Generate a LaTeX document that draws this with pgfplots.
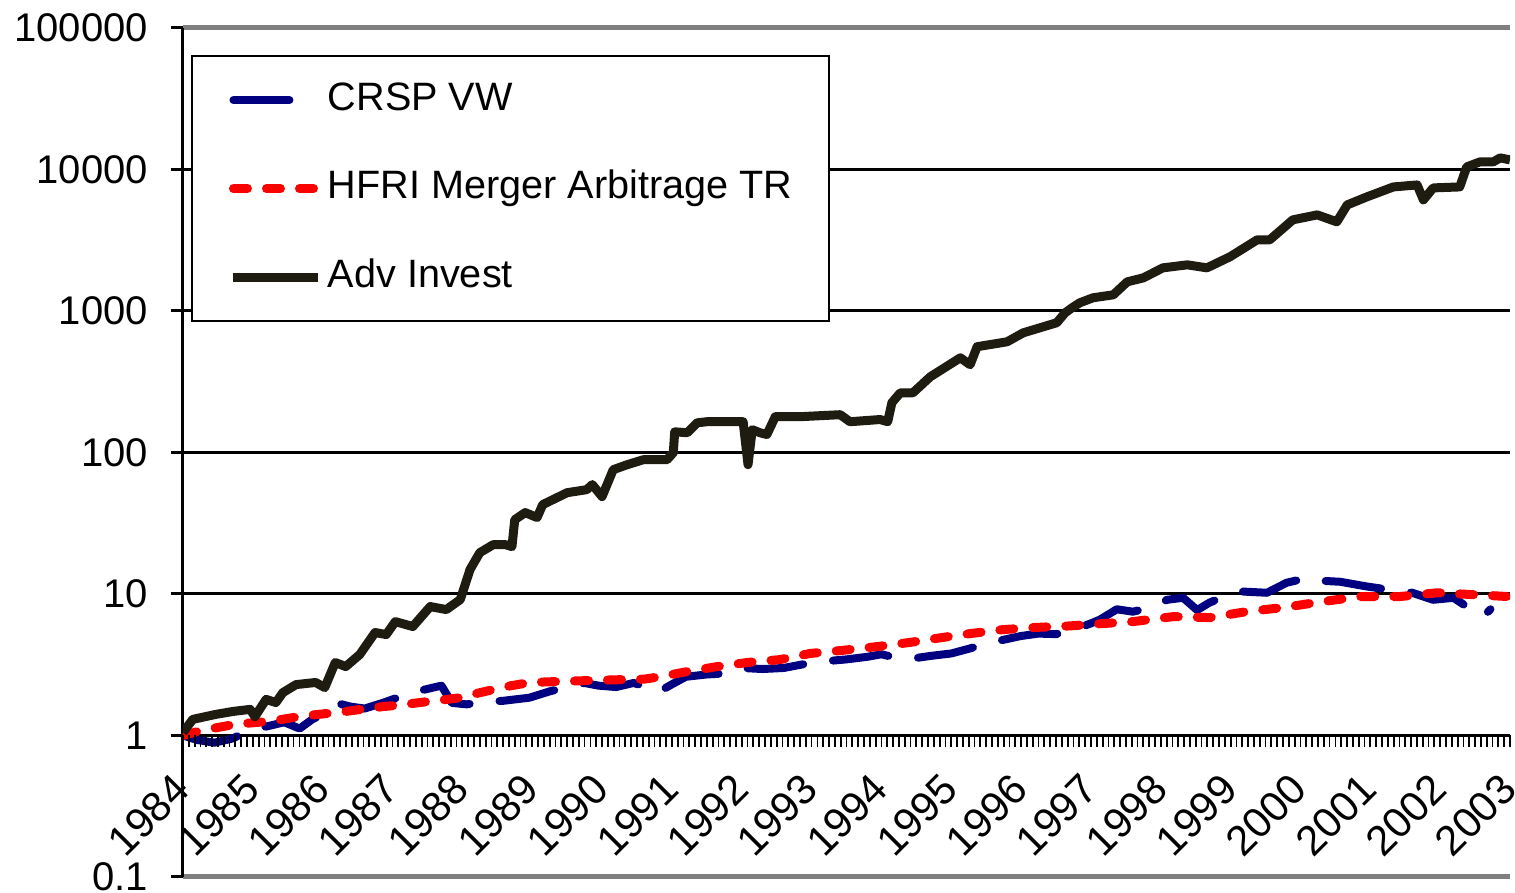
\documentclass[border=0pt]{standalone}
\usepackage{fontspec}
\setmainfont{Liberation Sans}
\usepackage{pgfplots}
\pgfplotsset{compat=1.18}
\definecolor{crsp}{RGB}{0,0,128}
\definecolor{hfri}{RGB}{255,0,0}
\definecolor{adv}{RGB}{30,28,16}
\definecolor{framegray}{RGB}{128,128,128}
\begin{document}
\begin{tikzpicture}
\useasboundingbox (0,0) rectangle (757.5pt,446.5pt);
\begin{axis}[
  at={(91.5pt,8pt)}, anchor=south west,
  scale only axis, width=663.5pt, height=424.5pt,
  xmin=1984, xmax=2003, ymin=0.1, ymax=100000, ymode=log,
  clip mode=individual,
  axis x line*=box, axis y line*=left,
  x axis line style={draw=framegray, line width=2.5pt},
  y axis line style={draw=black, line width=1.5pt},
  xtick=\empty,
  ytick={0.1,1,10,100,1000,10000,100000},
  yticklabels={0.1,1,10,100,1000,10000,100000},
  yminorticks=false,
  ymajorgrids, major grid style={black, line width=1.5pt},
  tick align=outside, major tick length=6pt,
  every tick/.style={black, line width=1.5pt},
  yticklabel style={font=\fontsize{20}{24}\selectfont, xshift=-8pt},
  /pgf/number format/assume math mode=true,
  legend style={at={(0.006,0.968)}, anchor=north west, draw=black, line width=1pt, fill=white,
    inner xsep=18.5pt, inner ysep=13pt, row sep=26.25pt,
    font=\fontsize{19.8}{24}\selectfont,
    nodes={inner sep=0pt, text height=14pt, text depth=4pt}},
  legend cell align=left,
  legend image code/.code={\draw[#1] (0pt,0pt) -- (42.3pt,0pt); \path (45pt,0pt);},
]
\addplot[crsp, line width=4pt, line cap=round, line join=round, dash pattern=on 28pt off 15pt] table {
1984.00 1.00
1984.20 0.93
1984.45 0.89
1984.70 0.95
1984.96 1.08
1985.20 1.16
1985.45 1.24
1985.67 1.12
1985.85 1.30
1986.00 1.42
1986.19 1.70
1986.40 1.60
1986.60 1.55
1986.86 1.70
1987.11 1.88
1987.35 2.05
1987.58 2.18
1987.70 2.25
1987.85 1.70
1988.06 1.66
1988.30 1.72
1988.59 1.76
1988.96 1.85
1989.25 2.05
1989.50 2.20
1989.75 2.35
1989.95 2.25
1990.20 2.20
1990.45 2.35
1990.65 2.20
1990.80 2.02
1991.00 2.30
1991.20 2.60
1991.50 2.70
1991.80 2.75
1992.00 3.00
1992.30 2.95
1992.60 3.00
1992.90 3.20
1993.20 3.35
1993.50 3.45
1993.80 3.60
1994.00 3.75
1994.20 3.55
1994.45 3.50
1994.70 3.65
1995.00 3.80
1995.25 4.10
1995.50 4.45
1995.75 4.75
1996.00 5.05
1996.25 5.25
1996.50 5.20
1996.75 5.60
1997.00 6.20
1997.13 6.60
1997.37 7.80
1997.60 7.50
1997.85 8.00
1998.09 9.10
1998.32 9.40
1998.52 7.70
1998.70 8.70
1998.95 9.80
1999.18 10.4
1999.52 10.2
1999.80 12.0
2000.10 13.0
2000.30 12.4
2000.57 12.2
2000.95 11.3
2001.28 10.7
2001.60 10.2
2001.90 9.10
2002.19 9.40
2002.38 8.15
2002.61 6.90
2002.72 7.80
};
\addlegendentry{CRSP VW}
\addplot[hfri, line width=4.5pt, line cap=round, line join=round, dash pattern=on 7pt off 9.5pt] table {
1984.00 1.00
1984.25 1.08
1984.50 1.14
1984.75 1.20
1985.00 1.23
1985.25 1.26
1985.50 1.32
1985.75 1.38
1986.00 1.42
1986.33 1.48
1986.60 1.54
1986.86 1.60
1987.10 1.64
1987.39 1.71
1987.70 1.78
1987.97 1.85
1988.20 1.98
1988.44 2.11
1988.70 2.25
1988.97 2.37
1989.40 2.41
1989.87 2.45
1990.26 2.48
1990.60 2.50
1990.83 2.60
1991.22 2.83
1991.65 3.07
1992.08 3.28
1992.55 3.44
1992.98 3.80
1993.45 4.00
1993.94 4.25
1994.41 4.55
1994.84 4.90
1995.27 5.25
1995.74 5.60
1996.20 5.80
1996.70 5.95
1997.10 6.15
1997.60 6.38
1998.18 6.92
1998.70 6.81
1999.23 7.51
1999.75 8.02
2000.32 8.84
2000.85 9.59
2001.43 9.60
2001.96 10.2
2002.47 9.90
2002.96 9.60
};
\addlegendentry{HFRI Merger Arbitrage TR}
\addplot[adv, line width=4.5pt, line join=round] table {
1984.00 1.05
1984.14 1.30
1984.47 1.41
1984.72 1.48
1984.96 1.53
1985.03 1.36
1985.19 1.80
1985.33 1.71
1985.43 2.01
1985.62 2.29
1985.90 2.37
1986.03 2.18
1986.18 3.28
1986.33 3.07
1986.53 3.73
1986.75 5.34
1986.91 5.17
1987.04 6.38
1987.29 5.89
1987.54 8.15
1987.77 7.76
1987.97 9.13
1988.11 14.9
1988.25 19.6
1988.44 22.3
1988.62 22.3
1988.71 21.6
1988.75 33.5
1988.90 37.6
1989.07 34.7
1989.15 42.8
1989.50 52.0
1989.78 54.6
1989.86 59.3
1990.00 48.8
1990.16 75.6
1990.36 82.0
1990.59 88.9
1990.93 88.9
1991.02 99.7
1991.04 140
1991.22 138
1991.36 162
1991.50 165
1992.02 165
1992.09 82.0
1992.15 145
1992.26 138
1992.36 134
1992.48 179
1992.83 179
1993.41 185
1993.55 165
1993.98 171
1994.09 165
1994.15 225
1994.27 264
1994.45 264
1994.70 343
1995.13 467
1995.27 417
1995.37 559
1995.80 606
1996.03 701
1996.51 826
1996.63 971
1996.73 1054
1996.84 1143
1997.03 1240
1997.32 1301
1997.52 1607
1997.75 1715
1998.03 2018
1998.38 2119
1998.66 2018
1998.99 2415
1999.38 3184
1999.56 3184
1999.89 4407
2000.24 4778
2000.52 4266
2000.67 5623
2000.95 6401
2001.33 7530
2001.67 7780
2001.76 6100
2001.90 7413
2002.28 7530
2002.38 10430
2002.57 11320
2002.76 11320
2002.86 12080
2003.00 11690
};
\addlegendentry{Adv Invest}
\pgfplotsinvokeforeach{0,...,228}{\draw[black, line width=0.9pt] (axis cs:1984,1) ++(#1*2.91009pt,0pt) -- ++(0pt,-6pt);}
\pgfplotsinvokeforeach{1984,...,2003}{\node[anchor=east, rotate=45, font=\fontsize{21}{24}\selectfont, inner sep=0pt] at ([xshift=-0.5pt,yshift=-23pt]axis cs:#1,1) {#1};}
\end{axis}
\end{tikzpicture}
\end{document}
